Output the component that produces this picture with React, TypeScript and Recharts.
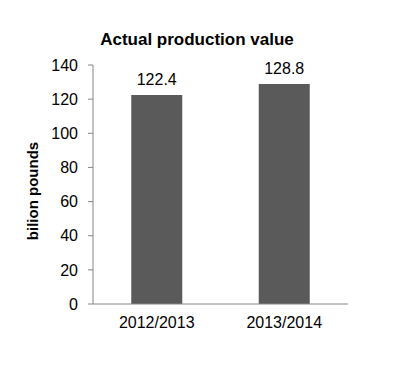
import React from "react";
import { BarChart, Bar, XAxis, YAxis, LabelList } from "recharts";

const categories = ["2012/2013", "2013/2014"];
const values = [122.4, 128.8];
const yTicks = [0, 20, 40, 60, 80, 100, 120, 140];

const data = categories.map((c, i) => ({ name: c, value: values[i] }));

const font = "'Liberation Sans', Arial, sans-serif";

export default function App() {
  return (
    <div style={{ position: "relative", width: 390, height: 364 }}>
      <div
        style={{
          position: "absolute",
          left: -6,
          top: 22,
          width: 390,
          textAlign: "center",
          fontFamily: font,
          fontWeight: "bold",
          fontSize: 17,
          color: "#000",
        }}
      >
        Actual production value
      </div>
      <div
        style={{
          position: "absolute",
          left: 25 - 60,
          top: 183 - 10,
          width: 120,
          height: 20,
          lineHeight: "20px",
          textAlign: "center",
          transform: "rotate(-90deg)",
          fontFamily: font,
          fontWeight: "bold",
          fontSize: 15,
          color: "#000",
          whiteSpace: "nowrap",
        }}
      >
        bilion pounds
      </div>
      <BarChart
        width={390}
        height={364}
        data={data}
        margin={{ top: 57, right: 50, bottom: 38, left: 25 }}
        barCategoryGap="30%"
      >
        <XAxis
          dataKey="name"
          height={30}
          tickLine={false}
          axisLine={{ stroke: "#868686" }}
          tick={{ fill: "#000", fontFamily: font, fontSize: 16 }}
          tickMargin={7}
        />
        <YAxis
          width={60}
          domain={[0, 140]}
          ticks={yTicks}
          interval={0}
          axisLine={{ stroke: "#868686" }}
          tickLine={{ stroke: "#868686" }}
          tickSize={5}
          tick={{ fill: "#000", fontFamily: font, fontSize: 16 }}
          tickMargin={10}
        />
        <Bar dataKey="value" fill="#5a5a5a" isAnimationActive={false}>
          <LabelList
            dataKey="value"
            position="top"
            offset={10}
            style={{ fill: "#000", fontFamily: font, fontSize: 16 }}
          />
        </Bar>
      </BarChart>
    </div>
  );
}
